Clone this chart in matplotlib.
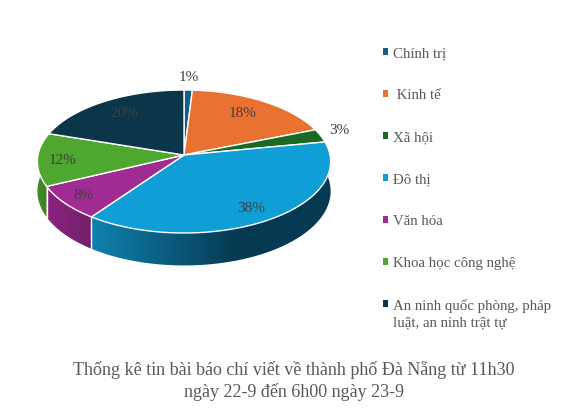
import numpy as np
import matplotlib
matplotlib.use("Agg")
import matplotlib.pyplot as plt
from matplotlib.patches import Patch, Polygon
from matplotlib.colors import LinearSegmentedColormap

categories = ["Chính trị", " Kinh tế", "Xã hội", "Đô thị", "Văn hóa", "Khoa học công nghệ",
              "An ninh quốc phòng, pháp\nluật, an ninh trật tự"]
values = [1, 18, 3, 38, 8, 12, 20]
colors = ["#156082", "#E97132", "#196B24", "#0F9ED5", "#A02B93", "#4EA72E", "#0B3548"]
side_light = ["#0E4A66", "#B5561F", "#124E1A", "#0F82AE", "#8A2480", "#438F27", "#08293A"]
side_dark = ["#0E4A66", "#B5561F", "#124E1A", "#063A52", "#73206B", "#3C8023", "#08293A"]
title = "Thống kê tin bài báo chí viết về thành phố Đà Nẵng từ 11h30\nngày 22-9 đến 6h00 ngày 23-9"

plt.rcParams["font.family"] = ["Liberation Serif", "DejaVu Serif"]
W, H = 571, 419
fig = plt.figure(figsize=(W / 100, H / 100), dpi=100, facecolor="white")
ax = fig.add_axes([0, 0, 1, 1])

CX, CY, A, B, K, DEPTH = 184, 155, 146, 70.9, 0.0909, 29.5


def project(deg):
    t = np.radians(deg)
    u, v = np.sin(t), -np.cos(t)
    s = 1 / (1 - K * v)
    return CX + A * u * s, CY + B * v * s, s


cum = np.concatenate([[0], np.cumsum(values)]) * 3.6

# side wall: a horizontal shading ramp clipped to each slice's outline
for i in range(len(values)):
    a0, a1 = max(cum[i], 75), min(cum[i + 1], 285)
    if a1 <= a0:
        continue
    angs = np.linspace(a0, a1, 200)
    xs, ys, ss = project(angs)
    outline = np.column_stack([np.r_[xs, xs[::-1]], np.r_[ys, (ys + DEPTH * ss)[::-1]]])
    poly = Polygon(outline, closed=True, facecolor="none", edgecolor="none", zorder=1)
    ax.add_patch(poly)
    cmap = LinearSegmentedColormap.from_list("s", [side_light[i], side_dark[i]])
    x_lo, x_hi = xs.min(), xs.max()
    stop = 237 if i == 3 else x_hi
    ramp = np.clip((np.linspace(x_lo, x_hi, 300) - x_lo) / max(stop - x_lo, 1), 0, 1)
    im = ax.imshow(ramp[None, :], cmap=cmap, vmin=0, vmax=1, aspect="auto", interpolation="bilinear",
                   extent=(x_lo, x_hi, (ys + DEPTH * ss).max() + 1, ys.min() - 1), zorder=1)
    im.set_clip_path(poly)
    # white seam at the front end of a slice
    if 90 < a0 < 270:
        x0, y0, s0 = project(a0)
        ax.plot([x0, x0], [y0, y0 + DEPTH * s0], color="white", lw=1, zorder=2)

ax.set_xlim(0, W)
ax.set_ylim(H, 0)
ax.set_aspect("auto")
ax.axis("off")

# top face
for i in range(len(values)):
    angs = np.linspace(cum[i], cum[i + 1], 120)
    xs, ys, _ = project(angs)
    ax.fill(np.r_[CX, xs], np.r_[CY, ys], facecolor=colors[i], edgecolor="white",
            lw=1.0, joinstyle="round", zorder=3)

# data labels
label_xy = [(189, 77.5), (243, 113.5), (339, 130.5), (251, 208.5), (83, 195.5), (63, 160.5), (124, 113.5)]
for (x, y), val in zip(label_xy, values):
    ax.text(x, y, f"{val}%", fontsize=11, color="#404040", ha="center", va="center", zorder=5)

# legend
handles = [Patch(facecolor=c, edgecolor="none") for c in colors]
leg = ax.legend(handles, categories, loc="upper left", bbox_to_anchor=(383 / W, 1 - 47 / H),
                frameon=False, fontsize=10.7, labelcolor="#595959", labelspacing=1.95,
                handlelength=0.36, handleheight=0.36, handletextpad=0.3, borderpad=0,
                borderaxespad=0, alignment="left")
leg.get_texts()[-1].set_linespacing(1.35)
leg.get_patches()[-1].set_y(9)

ax.text(294, 381, title, fontsize=13, color="#595959", ha="center", va="center", linespacing=1.3)

fig.savefig("out.png", dpi=100, facecolor="white")
